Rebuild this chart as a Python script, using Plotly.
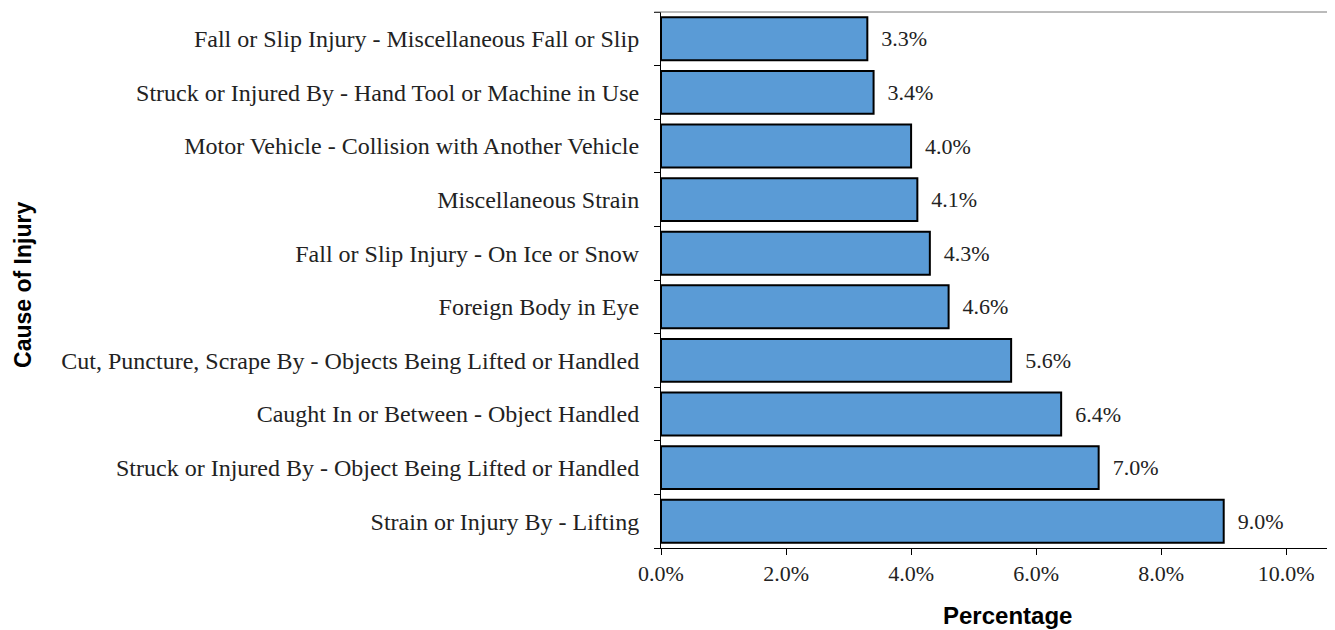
import plotly.graph_objects as go

categories = [
    "Strain or Injury By - Lifting",
    "Struck or Injured By - Object Being Lifted or Handled",
    "Caught In or Between - Object Handled",
    "Cut, Puncture, Scrape By - Objects Being Lifted or Handled",
    "Foreign Body in Eye",
    "Fall or Slip Injury - On Ice or Snow",
    "Miscellaneous Strain",
    "Motor Vehicle - Collision with Another Vehicle",
    "Struck or Injured By - Hand Tool or Machine in Use",
    "Fall or Slip Injury - Miscellaneous Fall or Slip",
]
values = [0.090, 0.070, 0.064, 0.056, 0.046, 0.043, 0.041, 0.040, 0.034, 0.033]
x_ticks = [0, 0.02, 0.04, 0.06, 0.08, 0.10]
x_tick_labels = ["0.0%", "2.0%", "4.0%", "6.0%", "8.0%", "10.0%"]

serif = "Liberation Serif, Times New Roman, serif"
sans = "Liberation Sans, Arial, sans-serif"

fig = go.Figure(go.Bar(
    x=values,
    y=categories,
    orientation="h",
    marker=dict(color="#5a9bd6", line=dict(color="black", width=2)),
    text=["  " + f"{v*100:.1f}%" for v in values],
    textposition="outside",
    textfont=dict(family=serif, size=22, color="#222222"),
    cliponaxis=False,
))

fig.update_layout(
    width=1327, height=622,
    margin=dict(l=653, r=0, t=4, b=82),
    paper_bgcolor="white", plot_bgcolor="white",
    bargap=0.2,
    showlegend=False,
    xaxis=dict(
        range=[0, 0.1078],
        tickvals=x_ticks, ticktext=x_tick_labels,
        tickfont=dict(family=serif, size=22, color="#222222"),
        showgrid=False, zeroline=False,
        showline=True, linecolor="black", linewidth=1,
        ticks="outside", ticklen=6, tickcolor="black",
    ),
    yaxis=dict(
        tickfont=dict(family=serif, size=24, color="#222222"),
        showgrid=False, zeroline=False,
        showline=True, linecolor="black", linewidth=1,
        ticks="outside", ticklen=6, tickcolor="black", tickson="boundaries",
        ticklabelstandoff=16,
    ),
    shapes=[dict(type="line", xref="paper", yref="paper", x0=-0.01, x1=1, y0=1, y1=1,
                 line=dict(color="#777777", width=1))],
)
fig.add_annotation(text="<b>Cause of Injury</b>", xref="paper", yref="paper", x=-0.9466, y=0.4907,
                   xanchor="center", yanchor="middle",
                   textangle=-90, showarrow=False, font=dict(family=sans, size=23, color="black"))
fig.add_annotation(text="<b>Percentage</b>", xref="paper", yref="paper", x=0.5148, y=-0.125,
                   xanchor="center", yanchor="middle",
                   showarrow=False, font=dict(family=sans, size=24, color="black"))

fig.write_html("out.html")
